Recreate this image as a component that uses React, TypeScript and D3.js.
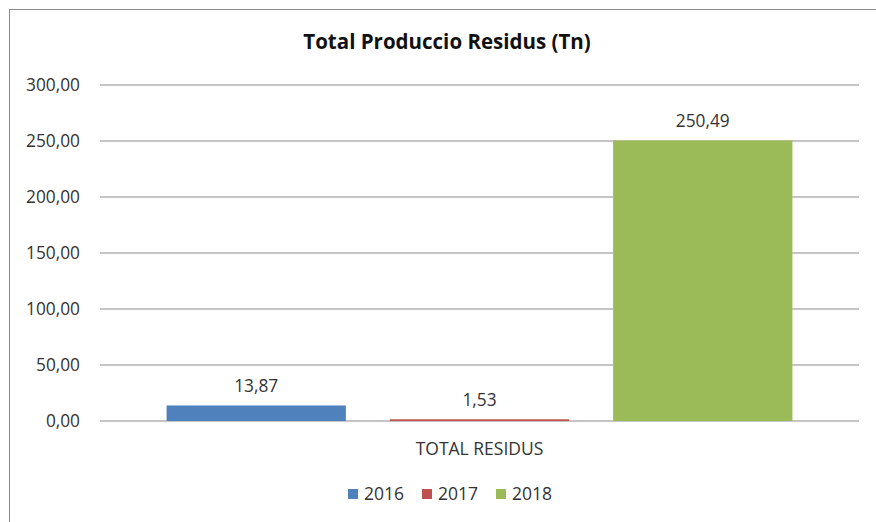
import React from "react";
import * as d3 from "d3";

const title = "Total Producció Residus (Tn)".replace("ó", "o");
const categories = ["TOTAL RESIDUS"];
const series = ["2016", "2017", "2018"];
const values = [13.87, 1.53, 250.49];
const colors = ["#4F81BD", "#C0504D", "#9BBB59"];
const yTicks = [0, 50, 100, 150, 200, 250, 300];

const W = 876;
const H = 522;
const FONT = "'Open Sans', sans-serif";

const fmt = (v: number) => v.toFixed(2).replace(".", ",");

export default function App() {
  const plotL = 100;
  const plotR = 859;
  const y = d3.scaleLinear().domain([0, 300]).range([421, 85]);
  const x0 = d3.scaleBand().domain(categories).range([plotL, plotR]).paddingInner(0).paddingOuter(0.1064);
  const x1 = d3.scaleBand().domain(series).range([0, x0.bandwidth()]).paddingInner(0.197).paddingOuter(0);
  const cat = categories[0];
  const cx = (x0(cat) ?? 0) + x0.bandwidth() / 2;
  const textColor = "#333333";

  const legendStart = 348;
  const legendStep = 74;

  return (
    <svg width={W} height={H} style={{ position: "absolute", left: 0, top: 0, display: "block", background: "#fff" }}>
      <rect x={0} y={0} width={W} height={H} fill="#fff" />
      <rect x={9.5} y={9.5} width={W + 20} height={H + 20} fill="none" stroke="#8a8a8a" strokeWidth={1} />
      <text x={447} y={49} textAnchor="middle" fontFamily={FONT} fontWeight={700} fontSize={20.5} fill="#111">
        {title}
      </text>
      {yTicks.map((t) => (
        <g key={t}>
          <line x1={plotL} x2={plotR} y1={y(t)} y2={y(t)} stroke="#8c8c8c" strokeWidth={1.2} />
          <text x={80} y={y(t)} dy="0.35em" textAnchor="end" fontFamily={FONT} fontSize={17.3} fill={textColor}>
            {fmt(t)}
          </text>
        </g>
      ))}
      {series.map((s, i) => {
        const bx = (x0(cat) ?? 0) + (x1(s) ?? 0);
        const top = y(values[i]);
        return (
          <g key={s}>
            <rect x={bx} y={top} width={x1.bandwidth()} height={y(0) - top} fill={colors[i]} />
            <text x={bx + x1.bandwidth() / 2} y={top - 13} textAnchor="middle" fontFamily={FONT} fontSize={17.3} fill={textColor}>
              {fmt(values[i])}
            </text>
          </g>
        );
      })}
      <text x={cx} y={455} textAnchor="middle" fontFamily={FONT} fontSize={17.5} fill={textColor}>
        {cat}
      </text>
      {series.map((s, i) => (
        <g key={"lg" + s}>
          <rect x={legendStart + i * legendStep} y={489} width={10} height={10} fill={colors[i]} />
          <text x={legendStart + i * legendStep + 16} y={494} dy="0.35em" fontFamily={FONT} fontSize={17.5} fill={textColor}>
            {s}
          </text>
        </g>
      ))}
    </svg>
  );
}
